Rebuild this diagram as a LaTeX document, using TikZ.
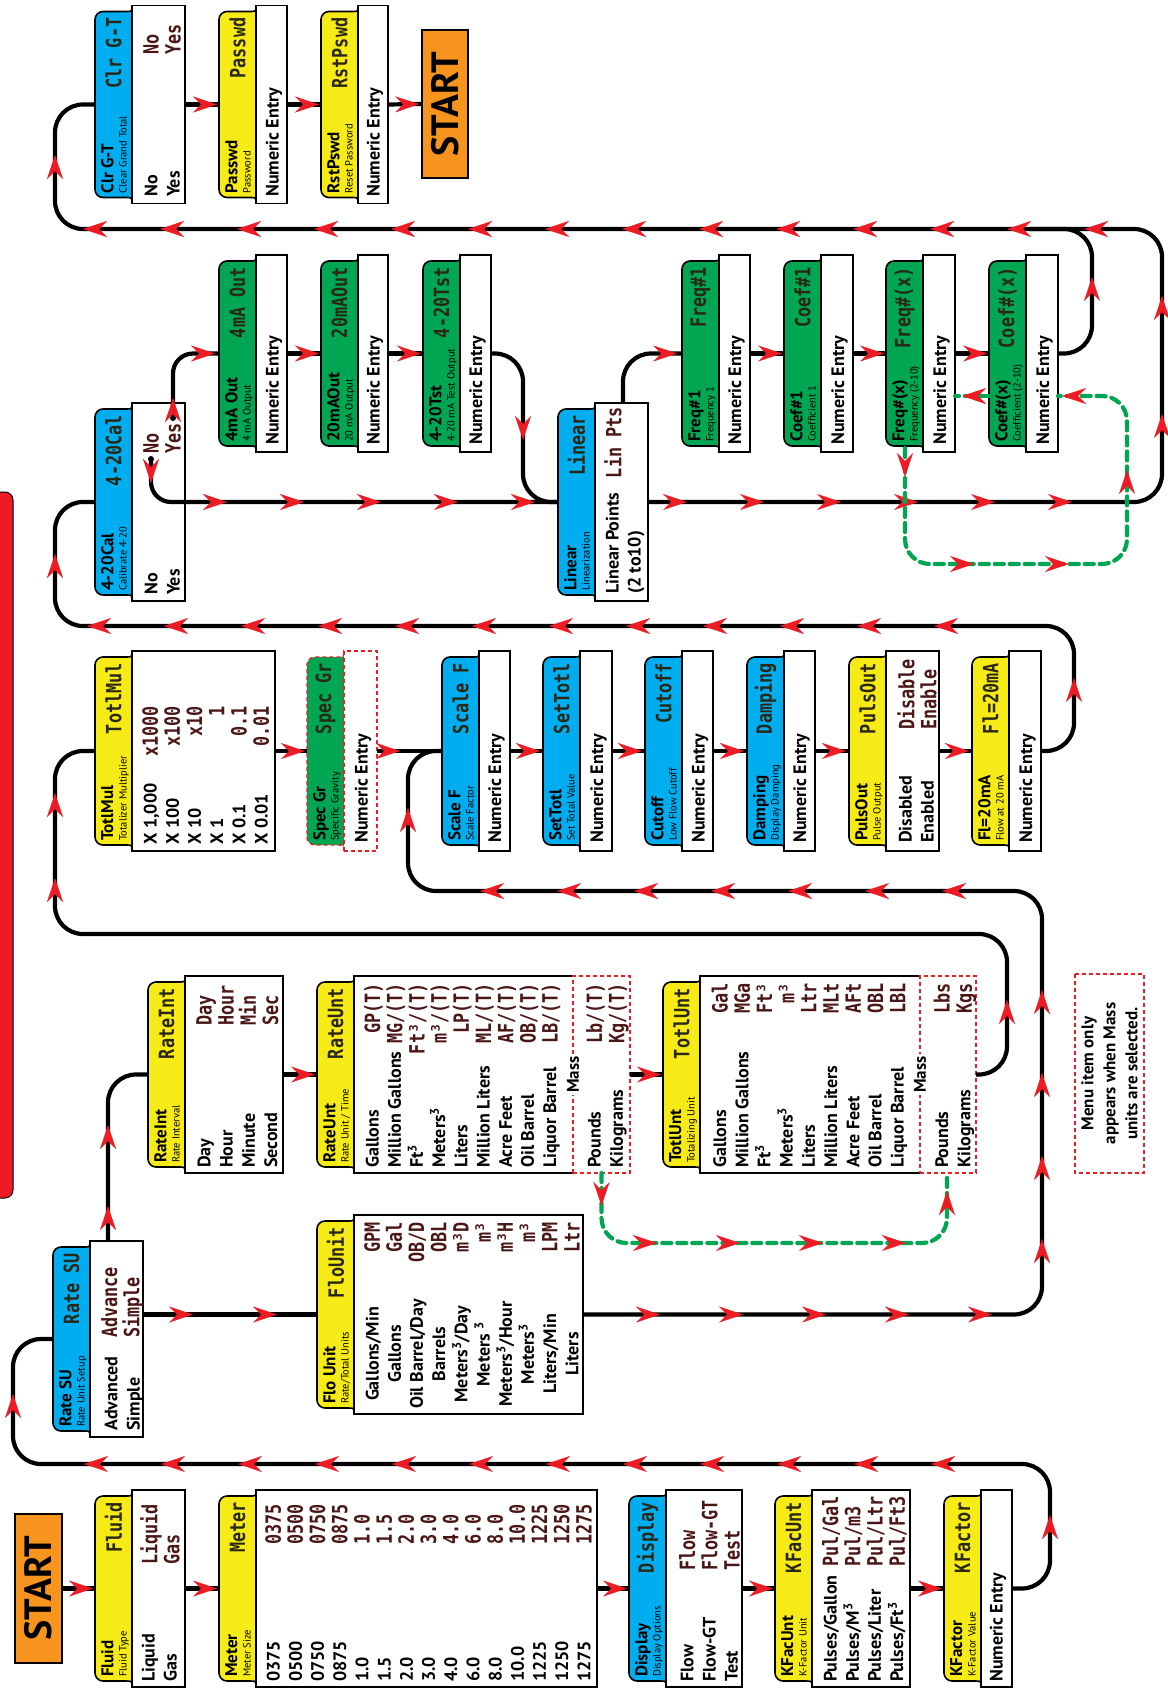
\documentclass[tikz,border=0pt]{standalone}
\usepackage{fontspec}
\setmainfont{PT Sans}
\newfontfamily\lcdfont[FakeStretch=0.8]{DejaVu Sans Mono}
\usetikzlibrary{arrows.meta, decorations.markings}
\definecolor{hdryellow}{HTML}{F6EB16}
\definecolor{hdrblue}{HTML}{00AEEF}
\definecolor{hdrgreen}{HTML}{00A651}
\definecolor{startorange}{HTML}{F7941D}
\definecolor{flowred}{HTML}{ED1C24}
\definecolor{lcdink}{HTML}{2B2716}
\definecolor{lcdval}{HTML}{4B1616}
\tikzset{
  wire/.style={line width=4.2pt, rounded corners=28pt},
  arr/.style={postaction={decorate, decoration={markings, mark=at position #1 with {\arrow{Stealth[length=24pt, width=16pt, inset=8pt, line width=0.4pt, color=flowred, fill=flowred]}}}}},
  hdrline/.style={draw=black, line width=1.6pt},
  bodyline/.style={draw=black, line width=1.6pt, fill=white},
  mtitle/.style={inner sep=0pt, font=\bfseries\fontsize{17}{17}\selectfont},
  msub/.style={inner sep=0pt, font=\fontsize{10.5}{10.5}\selectfont},
  mlcd/.style={inner sep=0pt, text=lcdink, font=\lcdfont\bfseries\fontsize{21}{21}\selectfont},
  mbody/.style={inner sep=0pt, align=left, font=\bfseries\fontsize{18}{22.2}\selectfont},
  mval/.style={inner sep=0pt, align=left, text=lcdval, font=\lcdfont\bfseries\fontsize{21}{22.2}\selectfont},
  startbox/.style={draw=black, line width=1.6pt, fill=startorange, inner sep=0pt, font=\bfseries\fontsize{38}{38}\selectfont},
  loopline/.style={draw=hdrgreen, line width=4.2pt, dash pattern=on 9pt off 6pt, line cap=round, rounded corners=25pt},
  massline/.style={draw=flowred, line width=1.4pt, dash pattern=on 4pt off 3pt},
  masstag/.style={fill=white, inner sep=2pt, font=\bfseries\fontsize{17}{17}\selectfont},
  notebox/.style={massline, align=center, inner sep=0pt, minimum width=199pt, minimum height=69pt, font=\bfseries\fontsize{17}{22}\selectfont}
}
\newcommand{\menubox}[9]{%
  \draw[hdrline, fill=#2] (#3,{#5-37}) .. controls ({#3+6},{#5-37}) .. ({#3+6},{#5-31})
    -- ({#3+6},{#5-8}) arc[start angle=180, end angle=90, radius=8pt]
    -- ({#4-14},#5) arc[start angle=90, end angle=0, radius=8pt]
    -- ({#4-6},{#5-31}) .. controls ({#4-6},{#5-37}) .. (#4,{#5-37}) -- cycle;
  \draw[bodyline] (#3,{#5-37}) rectangle (#4,#6);
  \node[mtitle, anchor=north west] (#1-t) at ({#3+10},{#5-6}) {#7};
  \node[msub, anchor=north west] (#1-s) at ({#3+10},{#5-24}) {#8};
  \node[mlcd, anchor=east] (#1-l) at ({#4-12},{#5-18.5}) {#9};
  \node[inner sep=0pt, outer sep=0pt, minimum width={(#4-(#3))*1pt}, minimum height={(#5-(#6))*1pt}]
    (#1) at ({(#3+#4)/2},{(#5+(#6))/2}) {};
}

\begin{document}
\begin{tikzpicture}[x=1pt, y=1pt]
\begin{scope}[shift={(0,-1688)}, rotate=90, transform shape]
\useasboundingbox (0,0) rectangle (1688,-1167);

\draw[fill=flowred, line width=1pt, rounded corners=8pt] (490,-13) rectangle (1196,22);

\node[startbox, minimum width=149pt, minimum height=47pt] (start) at (99.5,-38.5) {START};
\menubox{fluid}{hdryellow}{1}{198}{-95}{-185}{Fluid}{Fluid Type}{Fluid}
\node[mbody, anchor=north west] (fluid-b) at (6,-141.5) {Liquid\\Gas};
\node[mval, anchor=north west] (fluid-v) at (123,-140) {Liquid\\Gas};
\menubox{meter}{hdryellow}{1}{198}{-219}{-597}{Meter}{Meter Size}{Meter}
\node[mbody, anchor=north west] (meter-b) at (6,-266.5) {0375\\0500\\0750\\0875\\1.0\\1.5\\2.0\\3.0\\4.0\\6.0\\8.0\\10.0\\1225\\1250\\1275};
\node[mval, anchor=north west] (meter-v) at (143,-265) {0375\\0500\\0750\\0875\\1.0\\1.5\\2.0\\3.0\\4.0\\6.0\\8.0\\10.0\\1225\\1250\\1275};
\menubox{display}{hdrblue}{1}{198}{-629}{-742}{Display}{Display Options}{Display}
\node[mbody, anchor=north west] (display-b) at (6,-680.5) {Flow\\Flow-GT\\Test};
\node[mval, anchor=north west] (display-v) at (117,-679) {Flow\\Flow-GT\\Test};
\menubox{kfacunt}{hdryellow}{1}{198}{-775}{-910}{KFacUnt}{K-Factor Unit}{KFacUnt}
\node[mbody, anchor=north west] (kfacunt-b) at (6,-823.5) {Pulses/Gallon\\Pulses/M\textsuperscript{3}\\Pulses/Liter\\Pulses/Ft\textsuperscript{3}};
\node[mval, anchor=north west] (kfacunt-v) at (121,-822) {Pul/Gal\\Pul/m3\\Pul/Ltr\\Pul/Ft3};
\menubox{kfactor}{hdryellow}{1}{198}{-944}{-1012}{KFactor}{K-Factor Value}{KFactor}
\node[mbody, anchor=north west] (kfactor-b) at (6,-989.5) {Numeric Entry};

\menubox{ratesu}{hdrblue}{251}{447}{-53}{-143}{Rate SU}{Rate Unit Setup}{Rate SU}
\node[mbody, anchor=north west] (ratesu-b) at (257,-104.5) {Advanced\\Simple};
\node[mval, anchor=north west] (ratesu-v) at (350,-101) {Advance\\Simple};
\menubox{flounit}{hdryellow}{274}{473}{-317}{-583}{Flo Unit}{Rate/Total Units}{FloUnit}
\node[mbody, align=center, anchor=north] (flounit-b) at (334,-365.5) {Gallons/Min\\Gallons\\Oil Barrel/Day\\Barrels\\Meters\textsuperscript{3}/Day\\Meters \textsuperscript{3}\\Meters\textsuperscript{3}/Hour\\Meters\textsuperscript{3}\\Liters/Min\\Liters};
\node[mval, align=right, anchor=north east] (flounit-v) at (466,-364) {GPM\\Gal\\OB/D\\OBL\\m³D\\m³\\m³H\\m³\\LPM\\Ltr};

\menubox{rateint}{hdryellow}{515}{712}{-148}{-283}{RateInt}{Rate Interval}{RateInt}
\node[mbody, anchor=north west] (rateint-b) at (520,-197.5) {Day\\Hour\\Minute\\Second};
\node[mval, anchor=north west] (rateint-v) at (662,-196) {Day\\Hour\\Min\\Sec};
\menubox{rateunt}{hdryellow}{515}{712}{-317}{-630}{RateUnt}{Rate Unit / Time}{RateUnt}
\draw[white, line width=2.4pt] (515,-573) -- (515,-630) -- (712,-630) -- (712,-573);
\draw[massline] (515,-573) rectangle (712,-630);
\node[masstag] (rateunt-m) at (613.5,-573) {Mass};
\node[mbody, anchor=north west] (rateunt-b) at (520,-365.5) {Gallons\\Million Gallons\\Ft\textsuperscript{3}\\Meters\textsuperscript{3}\\Liters\\Million Liters\\Acre Feet\\Oil Barrel\\Liquor Barrel\\[22.2pt]Pounds\\Kilograms};
\node[mval, align=right, anchor=north east] (rateunt-v) at (705,-364) {GP(T)\\MG/(T)\\Ft³/(T)\\m³/(T)\\LP(T)\\ML/(T)\\AF/(T)\\OB/(T)\\LB/(T)\\[22.2pt]Lb/(T)\\Kg/(T)};
\menubox{totlunt}{hdryellow}{515}{712}{-663}{-976}{TotlUnt}{Totalizing Unit}{TotlUnt}
\draw[white, line width=2.4pt] (515,-920) -- (515,-976) -- (712,-976) -- (712,-920);
\draw[massline] (515,-920) rectangle (712,-976);
\node[masstag] (totlunt-m) at (613.5,-920) {Mass};
\node[mbody, anchor=north west] (totlunt-b) at (520,-713) {Gallons\\Million Gallons\\Ft\textsuperscript{3}\\Meters\textsuperscript{3}\\Liters\\Million Liters\\Acre Feet\\Oil Barrel\\Liquor Barrel\\[22.2pt]Pounds\\Kilograms};
\node[mval, align=right, anchor=north east] (totlunt-v) at (705,-711.5) {Gal\\MGa\\Ft³\\m³\\Ltr\\MLt\\AFt\\OBL\\LBL\\[22.2pt]Lbs\\Kgs};
\node[notebox] (note) at (614.5,-1109.5) {Menu item only\\appears when Mass\\units are selected.};

\menubox{totlmul}{hdryellow}{837}{1037}{-95}{-275}{TotlMul}{Totalizer Multiplier}{TotlMul}
\node[mbody, anchor=north west] (totlmul-b) at (843,-143.5) {X 1,000\\X 100\\X 10\\X 1\\X 0.1\\X 0.01};
\node[mval, align=right, anchor=north east] (totlmul-v) at (982,-142) {x1000\\x100\\x10\\1\\0.1\\0.01};
\begin{scope}[hdrline/.style={draw=flowred, line width=1.4pt, dash pattern=on 4pt off 3pt},
              bodyline/.style={draw=flowred, line width=1.4pt, dash pattern=on 4pt off 3pt, fill=white}]
\menubox{specgr}{hdrgreen}{837}{1037}{-307}{-377}{Spec Gr}{Specific Gravity}{Spec Gr}
\end{scope}
\node[mbody, anchor=north west] (specgr-b) at (845,-354.5) {Numeric Entry};
\menubox{scalef}{hdrblue}{837}{1037}{-442}{-510}{Scale F}{Scale Factor}{Scale F}
\node[mbody, anchor=north west] (scalef-b) at (845,-488) {Numeric Entry};
\menubox{settotl}{hdrblue}{837}{1037}{-543}{-612}{SetTotl}{Set Total Value}{SetTotl}
\node[mbody, anchor=north west] (settotl-b) at (845,-590) {Numeric Entry};
\menubox{cutoff}{hdrblue}{837}{1037}{-645}{-713}{Cutoff}{Low Flow Cutoff}{Cutoff}
\node[mbody, anchor=north west] (cutoff-b) at (845,-691.5) {Numeric Entry};
\menubox{damping}{hdrblue}{837}{1037}{-747}{-815}{Damping}{Display Damping}{Damping}
\node[mbody, anchor=north west] (damping-b) at (845,-793) {Numeric Entry};
\menubox{pulsout}{hdryellow}{837}{1037}{-849}{-939}{PulsOut}{Pulse Output}{PulsOut}
\node[mbody, anchor=north west] (pulsout-b) at (845,-898.5) {Disabled\\Enabled};
\node[mval, anchor=north west] (pulsout-v) at (958,-897) {Disable\\Enable};
\menubox{flmax}{hdryellow}{837}{1037}{-972}{-1041}{Fl=20mA}{Flow at 20 mA}{Fl=20mA}
\node[mbody, anchor=north west] (flmax-b) at (845,-1019) {Numeric Entry};

\menubox{cal}{hdrblue}{1087}{1285}{-95}{-185}{4-20Cal}{Calibrate 4-20}{4-20Cal}
\node[mbody, anchor=north west] (cal-b) at (1093,-144.5) {No\\Yes};
\node[mval, anchor=north west] (cal-v) at (1234,-143) {No\\Yes};
\coordinate (calno) at (1229,-151);
\coordinate (calyes) at (1270,-173);
\menubox{linear}{hdrblue}{1087}{1285}{-558}{-648}{Linear}{Linearization}{Linear}
\node[mbody, anchor=north west] (linear-b) at (1094,-605.5) {Linear Points\\(2 to10)};
\node[mval, anchor=north east] (linear-v) at (1281,-604) {Lin Pts};
\menubox{fourma}{hdrgreen}{1236}{1433}{-219}{-287}{4mA Out}{4 mA Output}{4mA Out}
\node[mbody, anchor=north west] (fourma-b) at (1243,-265.5) {Numeric Entry};
\menubox{twentyma}{hdrgreen}{1236}{1433}{-321}{-388}{20mAOut}{20 mA Output}{20mAOut}
\node[mbody, anchor=north west] (twentyma-b) at (1243,-366.5) {Numeric Entry};
\menubox{tst}{hdrgreen}{1236}{1433}{-423}{-491}{4-20Tst}{4-20 mA Test Output}{4-20Tst}
\node[mbody, anchor=north west] (tst-b) at (1243,-469) {Numeric Entry};
\menubox{freqone}{hdrgreen}{1236}{1433}{-682}{-750}{Freq\#1}{Frequency 1}{Freq\#1}
\node[mbody, anchor=north west] (freqone-b) at (1243,-728) {Numeric Entry};
\menubox{coefone}{hdrgreen}{1236}{1433}{-784}{-853}{Coef\#1}{Coefficient 1}{Coef\#1}
\node[mbody, anchor=north west] (coefone-b) at (1243,-831) {Numeric Entry};
\menubox{freqx}{hdrgreen}{1236}{1433}{-886}{-955}{Freq\#(x)}{Frequency (2-10)}{Freq\#(x)}
\node[mbody, anchor=north west] (freqx-b) at (1243,-933) {Numeric Entry};
\menubox{coefx}{hdrgreen}{1236}{1433}{-989}{-1058}{Coef\#(x)}{Coefficient (2-10)}{Coef\#(x)}
\node[mbody, anchor=north west] (coefx-b) at (1243,-1036) {Numeric Entry};

\menubox{clrgt}{hdrblue}{1484.5}{1682.5}{-95}{-185}{Clr G-T}{Clear Grand Total}{Clr G-T}
\node[mbody, anchor=north west] (clrgt-b) at (1491,-144.5) {No\\Yes};
\node[mval, anchor=north west] (clrgt-v) at (1633,-143) {No\\Yes};
\menubox{passwd}{hdryellow}{1484.5}{1682.5}{-219}{-287}{Passwd}{Password}{Passwd}
\node[mbody, anchor=north west] (passwd-b) at (1491,-265.5) {Numeric Entry};
\menubox{rstpswd}{hdryellow}{1484.5}{1682.5}{-321}{-388}{RstPswd}{Reset Password}{RstPswd}
\node[mbody, anchor=north west] (rstpswd-b) at (1491,-366.5) {Numeric Entry};
\node[startbox, minimum width=148pt, minimum height=46pt] (restart) at (1584,-445) {START};

\draw[wire, arr=-2pt] (start.south) -- (fluid.north);
\draw[wire, arr=-2pt] (fluid.south) -- (meter.north);
\draw[wire, arr=-2pt] (meter.south) -- (display.north);
\draw[wire, arr=-2pt] (display.south) -- (kfacunt.north);
\draw[wire, arr=-2pt] (kfacunt.south) -- (kfactor.north);
\draw[wire] (kfactor.south) -- (99.5,-1050) -- (224,-1050) -- (224,-13) -- (349,-13) -- (ratesu.north);
\path[arr=1] (161,-1050) -- (173,-1050);
\foreach \y in {-931,-854,...,-84} \path[arr=1] (224,{\y-10}) -- (224,\y);
\path[arr=1] (282,-13) -- (294,-13);

\draw[wire] (447,-108) -- (613.5,-108) -- (rateint.north);
\foreach \x in {482,563} \path[arr=1] ({\x-10},-108) -- (\x,-108);
\draw[wire] (373.5,-143) -- (flounit.north);
\foreach \y in {-193,-277} \path[arr=1] (373.5,{\y+10}) -- (373.5,\y);
\draw[wire, arr=-2pt] (rateint.south) -- (rateunt.north);
\draw[wire, arr=-2pt] (rateunt.south) -- (totlunt.north);
\draw[wire] (totlunt.south) -- (613.5,-1007) -- (754,-1007) -- (754,-55) -- (937,-55) -- (totlmul.north);
\path[arr=1] (676,-1007) -- (688,-1007);
\foreach \x in {810,895} \path[arr=1] ({\x-10},-55) -- (\x,-55);
\draw[wire] (flounit.south) -- (373.5,-1042) -- (797,-1042) -- (797,-408) -- (937,-408) -- (scalef.north);
\foreach \y in {-660,-743,...,-992} \path[arr=1] (373.5,{\y+10}) -- (373.5,\y);
\foreach \x in {449,532,...,698} \path[arr=1] ({\x-10},-1042) -- (\x,-1042);
\foreach \y in {-942,-865,...,-480} \path[arr=1] (797,{\y-10}) -- (797,\y);
\path[arr=1] (868,-408) -- (880,-408);

\draw[wire, arr=-2pt] (totlmul.south) -- (specgr.north);
\draw[wire, arr=23pt] (specgr.south) -- (scalef.north);
\draw[wire, arr=-3pt] (scalef.south) -- (settotl.north);
\draw[wire, arr=-3pt] (settotl.south) -- (cutoff.north);
\draw[wire, arr=-3pt] (cutoff.south) -- (damping.north);
\draw[wire, arr=-3pt] (damping.south) -- (pulsout.north);
\draw[wire, arr=-3pt] (pulsout.south) -- (flmax.north);
\draw[wire] (flmax.south) -- (937,-1074) -- (1062,-1074) -- (1062,-55) -- (1186,-55) -- (cal.north);
\path[arr=1] (998,-1074) -- (1010,-1074);
\foreach \y in {-934,-857,...,-87} \path[arr=1] (1062,{\y-10}) -- (1062,\y);
\path[arr=1] (1122,-55) -- (1134,-55);

\fill (calyes) circle (3pt);
\draw[wire, rounded corners=20pt] (calyes) -- (1334.5,-173) -- (fourma.north);
\path[arr=1] (1278,-173) -- (1290,-173);
\path[arr=1] (1334.5,-203) -- (1334.5,-215);
\fill (calno) circle (3pt);
\draw[wire, rounded corners=20pt] (calno) -- (1186,-151) -- (linear.north);
\path[arr=1] (1217,-151) -- (1205,-151);
\foreach \y in {-227,-304,...,-535} \path[arr=1] (1186,{\y+10}) -- (1186,\y);
\draw[wire, arr=-2pt] (fourma.south) -- (twentyma.north);
\draw[wire, arr=-2pt] (twentyma.south) -- (tst.north);
\draw[wire] (tst.south) -- (1334.5,-523) -- (1186,-523) -- (linear.north);
\path[arr=1] (1260,-523) -- (1248,-523);

\draw[wire] (1285,-623) -- (1334.5,-623) -- (freqone.north);
\path[arr=1] (1334.5,-665) -- (1334.5,-677);
\draw[wire, arr=-2pt] (freqone.south) -- (coefone.north);
\draw[wire, arr=-2pt] (coefone.south) -- (freqx.north);
\draw[wire, arr=-2pt] (freqx.south) -- (coefx.north);
\draw[wire] (coefx.south) -- (1334.5,-1092) -- (1459,-1092) -- (1459,-1030);
\path[arr=1] (1399,-1092) -- (1411,-1092);
\draw[wire] (linear.south) -- (1186,-1162) -- (1459,-1162) -- (1459,-55) -- (1583.5,-55) -- (clrgt.north);
\foreach \y in {-687,-764,...,-1072} \path[arr=1] (1186,{\y+10}) -- (1186,\y);
\foreach \x in {1274,1392} \path[arr=1] ({\x-10},-1162) -- (\x,-1162);
\foreach \y in {-1084,-1007,...,-83} \path[arr=1] (1459,{\y-10}) -- (1459,\y);
\path[arr=1] (1521,-55) -- (1533,-55);
\draw[wire, arr=-2pt] (clrgt.south) -- (passwd.north);
\draw[wire, arr=-2pt] (passwd.south) -- (rstpswd.north);
\draw[wire, arr=-2pt] (rstpswd.south) -- (restart.north);

\draw[loopline] (1240,-905) -- (1124,-905) -- (1124,-1127) -- (1292,-1127) -- (1292,-1058);
\draw[loopline] (1292,-989) -- (1292,-955);
\path[arr=1] (1223,-905) -- (1211,-905);
\foreach \y in {-974,-1069} \path[arr=1] (1124,{\y+10}) -- (1124,\y);
\path[arr=1] (1206,-1127) -- (1218,-1127);
\path[arr=1] (1292,-1074) -- (1292,-1062);
\path[arr=1] (1292,-974) -- (1292,-962);
\draw[loopline] (515,-601.5) -- (445,-601.5) -- (445,-947) -- (515,-947);
\path[arr=1] (494,-601.5) -- (482,-601.5);
\foreach \y in {-657,-740,...,-906} \path[arr=1] (445,{\y+10}) -- (445,\y);
\path[arr=1] (485,-947) -- (497,-947);
\end{scope}
\end{tikzpicture}
\end{document}
